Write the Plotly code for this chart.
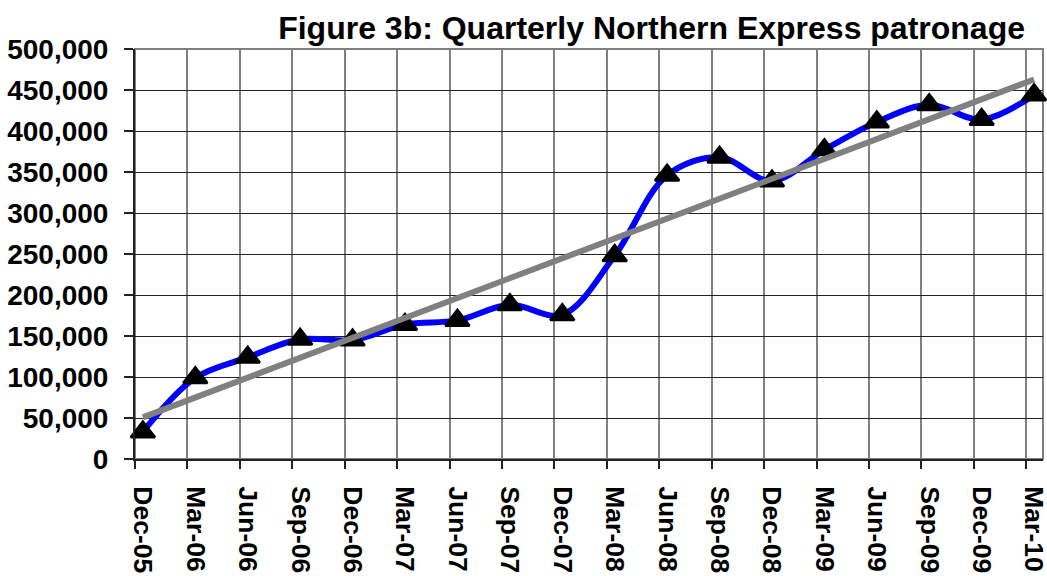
import numpy as np
import plotly.graph_objects as go

quarters = ["Dec-05", "Mar-06", "Jun-06", "Sep-06", "Dec-06", "Mar-07", "Jun-07",
            "Sep-07", "Dec-07", "Mar-08", "Jun-08", "Sep-08", "Dec-08", "Mar-09",
            "Jun-09", "Sep-09", "Dec-09", "Mar-10"]
patronage = [33000, 99000, 124000, 146000, 145000, 164000, 169000, 188000, 176000,
             248000, 346000, 368000, 339000, 377000, 411000, 432000, 414000, 444000]
y_ticks = list(range(0, 500001, 50000))

idx = np.arange(len(quarters))
point_offset = 0.15          # points sit a little to the right of each gridline
xpos = idx + point_offset
slope, intercept = np.polyfit(idx, patronage, 1)
trend = slope * idx + intercept

FONT = "Arial, 'Liberation Sans', sans-serif"

fig = go.Figure()
fig.add_trace(go.Scatter(
    x=xpos, y=patronage, mode="lines+markers",
    line=dict(color="#0000FF", width=6, shape="spline", smoothing=1.0),
    marker=dict(symbol="triangle-up", size=21, color="black",
                line=dict(color="black", width=2.5)),
    cliponaxis=False, showlegend=False, hoverinfo="skip"))
fig.add_trace(go.Scatter(
    x=xpos, y=trend, mode="lines",
    line=dict(color="#808080", width=6),
    cliponaxis=False, showlegend=False, hoverinfo="skip"))

fig.update_layout(
    width=1047, height=576,
    margin=dict(l=135, r=4, t=49, b=117, autoexpand=False),
    paper_bgcolor="white", plot_bgcolor="white",
    font=dict(family=FONT, size=28, color="black", weight="bold"),
    title=dict(text="Figure 3b: Quarterly Northern Express patronage",
               font=dict(family=FONT, size=32, color="black", weight="bold"),
               x=1025/1047, xanchor="right", xref="container",
               y=1 - 28/576, yanchor="middle", yref="container"),
    shapes=[dict(type="rect", xref="paper", yref="paper", x0=0, x1=1, y0=0, y1=1,
                 line=dict(color="#808080", width=2), layer="between")],
)
fig.update_xaxes(
    range=[0, 17.32], tickmode="array", tickvals=xpos, ticktext=quarters,
    tickangle=90, ticks="", showgrid=False, zeroline=False, automargin=False,
    tickfont=dict(size=26.5), ticklabeloverflow="allow",
    ticklabelstandoff=20,
    showline=True, linecolor="#222222", linewidth=2,
    minor=dict(tickmode="array", tickvals=list(idx), showgrid=True,
               gridcolor="#808080", gridwidth=2, ticks="outside", ticklen=8,
               tickcolor="#222222", tickwidth=1.5),
)
fig.update_yaxes(
    range=[0, 500000], tickmode="array", tickvals=y_ticks, tickformat=",",
    showgrid=True, gridcolor="#222222", gridwidth=1.2, zeroline=False,
    automargin=False, ticklabeloverflow="allow",
    showline=True, linecolor="#222222", linewidth=2,
    ticks="outside", ticklen=9, tickcolor="#222222", tickwidth=1.5,
    ticklabelstandoff=10,
)

fig.write_html("out.html",
               config={"displayModeBar": False},
               post_script="document.body.style.margin='0';"
                           "document.body.style.overflow='hidden';")
